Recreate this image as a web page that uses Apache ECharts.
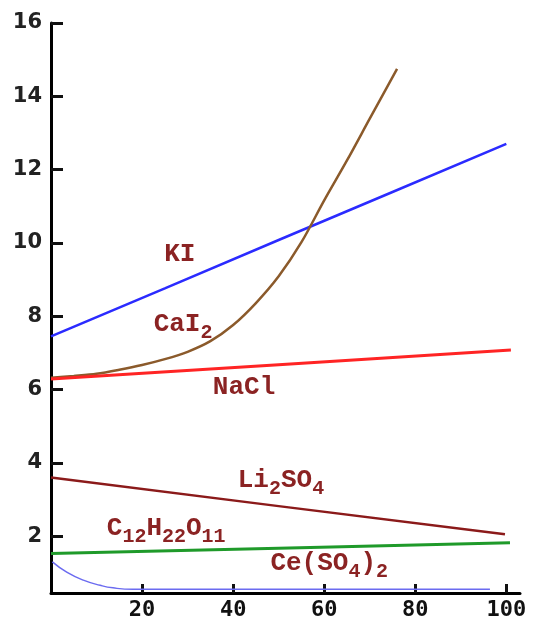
<!DOCTYPE html>
<html>
<head>
<meta charset="utf-8">
<script src="https://cdn.jsdelivr.net/npm/echarts@6/dist/echarts.min.js"></script>
<style>
  html, body { margin: 0; padding: 0; background: #fff; }
  #chart { width: 538px; height: 623px; }
</style>
</head>
<body>
<div id="chart"></div>
<script>
  // tick labels
  const xTicks = [20, 40, 60, 80, 100];
  const yTicks = [2, 4, 6, 8, 10, 12, 14, 16];

  // curves
  const kiX = [0, 25, 50, 75, 100];
  const kiY = [7.45, 8.76, 10.08, 11.39, 12.7];

  const caI2X = [0, 5, 10, 15, 20, 25, 30, 35, 40, 45, 50, 55, 60, 65, 70, 76];
  const caI2Y = [6.32, 6.37, 6.43, 6.54, 6.67, 6.83, 7.03, 7.32, 7.76, 8.36, 9.09, 10.02, 11.16, 12.25, 13.39, 14.75];

  const naclX = [0, 50, 101];
  const naclY = [6.29, 6.68, 7.08];

  const li2so4X = [0, 50, 99.7];
  const li2so4Y = [3.6, 2.82, 2.05];

  const sucroseX = [0, 50, 100.8];
  const sucroseY = [1.53, 1.67, 1.82];

  const ceX = [0.3, 3.45, 7.1, 10.8, 13.6, 18, 30, 50, 70, 96.4];
  const ceY = [1.3, 1.02, 0.8, 0.66, 0.59, 0.55, 0.55, 0.55, 0.55, 0.55];

  const zip = (xs, ys) => xs.map((x, i) => [x, ys[i]]);

  const labelColor = '#8b2323';
  const rich = {
    n: {fontFamily: 'Liberation Mono', fontWeight: 'bold', fontSize: 26, color: labelColor, lineHeight: 26, verticalAlign: 'top'},
    s: {fontFamily: 'Liberation Mono', fontWeight: 'bold', fontSize: 20, color: labelColor, lineHeight: 20, verticalAlign: 'top', padding: [12, 0, 0, 0]}
  };

  function tag(text, coord) {
    return {
      symbol: 'circle',
      symbolSize: 0,
      silent: true,
      label: {show: true, position: 'inside', formatter: text, rich: rich},
      data: [{coord: coord}]
    };
  }

  function curve(name, data, color, width, smooth, mark) {
    return {
      name: name,
      type: 'line',
      data: data,
      showSymbol: false,
      smooth: smooth,
      lineStyle: {color: color, width: width},
      markPoint: mark
    };
  }

  const chart = echarts.init(document.getElementById('chart'));

  chart.setOption({
    animation: false,
    grid: {left: 51, right: 18, top: 23, bottom: 30, outerBoundsMode: 'none'},
    xAxis: {
      type: 'value',
      min: 0,
      max: 103,
      axisLine: {lineStyle: {color: '#000', width: 3}},
      axisTick: {inside: true, length: 9, customValues: xTicks, lineStyle: {color: '#111', width: 3}},
      axisLabel: {
        customValues: xTicks,
        margin: 6,
        fontFamily: 'DejaVu Sans Mono',
        fontWeight: 'bold',
        fontSize: 22,
        color: '#111'
      },
      splitLine: {show: false}
    },
    yAxis: {
      type: 'value',
      min: 0.45,
      max: 16,
      axisLine: {lineStyle: {color: '#000', width: 3}},
      axisTick: {inside: true, length: 12, customValues: yTicks, lineStyle: {color: '#111', width: 3}},
      axisLabel: {
        customValues: yTicks,
        margin: 9,
        fontFamily: 'DejaVu Sans',
        fontWeight: 'bold',
        fontSize: 21,
        color: '#222'
      },
      splitLine: {show: false}
    },
    series: [
      curve('KI', zip(kiX, kiY), '#2b2bff', 2.5, false, tag('{n|KI}', [28.3, 9.69])),
      curve('CaI2', zip(caI2X, caI2Y), '#8b5a2b', 2.5, 0.3, tag('{n|CaI}{s|2}', [29, 7.78])),
      curve('NaCl', zip(naclX, naclY), '#ff2424', 3, false, tag('{n|NaCl}', [42.4, 6.07])),
      curve('Li2SO4', zip(li2so4X, li2so4Y), '#8b1a1a', 2.5, false, tag('{n|Li}{s|2}{n|SO}{s|4}', [50.5, 3.53])),
      curve('C12H22O11', zip(sucroseX, sucroseY), '#1f9a2a', 3, false, tag('{n|C}{s|12}{n|H}{s|22}{n|O}{s|11}', [25.3, 2.22])),
      curve('Ce(SO4)2', zip(ceX, ceY), '#6b6bf0', 1.5, true, tag('{n|Ce(SO}{s|4}{n|)}{s|2}', [61.1, 1.26]))
    ]
  });
</script>
</body>
</html>
